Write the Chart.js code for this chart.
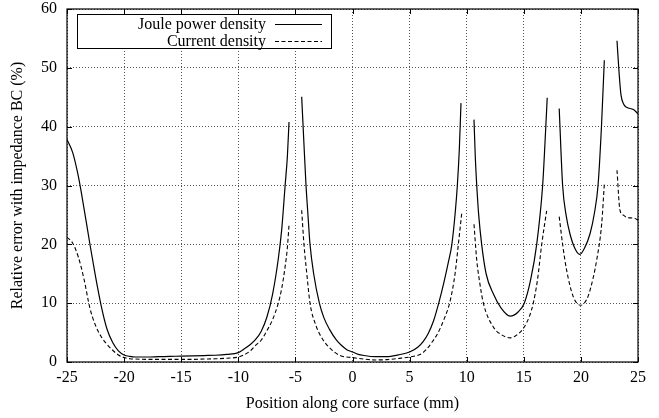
<!DOCTYPE html>
<html>
<head>
<meta charset="utf-8">
<script src="https://cdn.jsdelivr.net/npm/chart.js@4"></script>
<style>
html,body{margin:0;padding:0;background:#fff;}
#wrap{width:659px;height:418px;position:relative;}
</style>
</head>
<body>
<div id="wrap"><canvas id="c" width="659" height="418"></canvas></div>
<script>
// Data (null separates the curve's branches)
const jouleX = [-25,-24.5,-24,-23.5,-23,-22.5,-22,-21.5,-21,-20.5,-20,-19.5,-19,-18,-17,-16,-15,-14,-13,-12,-11,-10,-9.5,-9,-8.5,-8,-7.5,-7,-6.5,-6.2,-5.9,-5.7,-5.56,
  -5.1,
  -4.45,-4.25,-4.07,-3.9,-3.72,-3.4,-2.9,-2.5,-2,-1.4,-1,-0.5,0,0.5,1,2,3,4,5,5.74,6.2,6.62,7.1,7.55,8.0,8.4,8.7,9.0,9.18,9.35,9.5,
  10.1,
  10.64,10.75,10.88,11.05,11.31,11.7,12.33,13,13.8,14.5,15.04,15.6,16.13,16.65,16.85,17.05,
  17.6,
  18.1,18.4,18.7,19.04,19.5,19.9,20.3,20.8,21.2,21.5,21.8,22.05,
  22.6,
  23.16,23.35,23.51,23.75,24,24.6,25];
const jouleY = [37.8,35.6,31.5,26,20.1,14.5,9.5,5.6,3.3,1.9,1.2,0.95,0.85,0.85,0.9,0.95,1.0,1.05,1.1,1.15,1.3,1.6,2.2,2.9,3.8,5.2,7.6,11.5,17.5,22.5,30,35,40.8,
  null,
  45.1,37,30,25,20,15,10,7.5,5.5,3.7,2.9,2.1,1.7,1.3,1.1,0.9,0.9,1.2,1.7,2.55,3.5,4.8,7.0,10,13.5,17,20,25.5,30,36,44,
  null,
  41.2,35,30,25,20,15,11.6,9.2,7.8,8.5,10,14,20,30,37,44.9,
  null,
  43.1,30,25,21.8,19.2,18.3,19.3,21.8,25.5,30,40,51.3,
  null,
  54.6,49,45.4,43.8,43.3,42.9,42.2];

const currentX = [-25,-24.5,-24,-23.5,-23,-22.5,-22,-21.5,-21,-20.5,-20,-19.5,-19,-18,-17,-16,-15,-14,-13,-12,-11,-10,-9,-8.5,-8,-7.5,-7,-6.5,-6.2,-5.9,-5.7,-5.56,
  -5.1,
  -4.45,-4.25,-4.0,-3.72,-3.2,-2.56,-2,-1.1,0,1,2,3,4,5,6.06,6.5,6.94,7.5,8.0,8.54,8.98,9.27,9.56,
  10.1,
  10.64,10.88,11.1,11.46,12.33,13,13.8,14.4,15.04,15.5,15.83,16.2,16.57,17,
  17.6,
  18.1,18.4,18.75,19.34,20,20.5,20.8,21.38,21.82,22.05,
  22.6,
  23.16,23.42,23.7,24,24.74,25];
const currentY = [21.2,20.2,17.8,14,9.2,6.2,4.3,3.0,2.0,1.2,0.75,0.55,0.5,0.45,0.45,0.45,0.45,0.45,0.5,0.55,0.65,0.85,1.8,2.8,3.7,5.3,7.2,10,12.5,16.2,19.5,23.3,
  null,
  25.8,20,15,10,6.2,3.7,2.4,1.1,0.75,0.5,0.35,0.4,0.6,0.85,1.43,2.2,3.3,5.0,7.2,10.3,15,20,25.2,
  null,
  23.4,17.3,14,10,5.95,4.7,4.1,4.6,5.95,7.8,10,14,20,25.7,
  null,
  24.7,20,15.6,11.06,9.65,10.6,12.2,17.3,23.5,30.2,
  null,
  32.6,25.8,25,24.6,24.4,24.1];

const seriesLabels = ["Joule power density", "Current density"];
const xTitle = "Position along core surface (mm)";
const yTitle = "Relative error with impedance BC (%)";
const xMin = -25, xMax = 25, xStep = 5;
const yMin = 0, yMax = 60, yStep = 10;

const toPoints = (xs, ys) => xs.map((x, i) => ({x: x, y: ys[i]}));
const FONT = "'Liberation Serif', 'Times New Roman', serif";

const borderTicks = {
  id: 'borderTicks',
  afterDatasetsDraw(chart) {
    const {ctx, chartArea: a, scales: {x, y}} = chart;
    ctx.save();
    ctx.strokeStyle = '#000';
    ctx.lineWidth = 1;
    ctx.setLineDash([]);
    const L = 5;
    ctx.beginPath();
    for (let v = xMin; v <= xMax; v += xStep) {
      const px = Math.round(x.getPixelForValue(v)) + 0.5;
      ctx.moveTo(px, a.bottom); ctx.lineTo(px, a.bottom - L);
      ctx.moveTo(px, a.top); ctx.lineTo(px, a.top + L);
    }
    for (let v = yMin; v <= yMax; v += yStep) {
      const py = Math.round(y.getPixelForValue(v)) + 0.5;
      ctx.moveTo(a.left, py); ctx.lineTo(a.left + L, py);
      ctx.moveTo(a.right, py); ctx.lineTo(a.right - L, py);
    }
    ctx.stroke();
    ctx.lineWidth = 1.2;
    ctx.strokeRect(a.left, a.top, a.right - a.left, a.bottom - a.top);
    ctx.restore();
  }
};

const boxLegend = {
  id: 'boxLegend',
  afterDraw(chart) {
    const {ctx, chartArea: a} = chart;
    const bx = a.left + 10, by = a.top + 5, bw = 254, bh = 34;
    ctx.save();
    ctx.fillStyle = '#fff';
    ctx.fillRect(bx, by, bw, bh);
    ctx.strokeStyle = '#000';
    ctx.lineWidth = 1;
    ctx.setLineDash([]);
    ctx.strokeRect(bx + 0.5, by + 0.5, bw, bh);
    ctx.font = '16px ' + FONT;
    ctx.fillStyle = '#000';
    ctx.textAlign = 'right';
    ctx.textBaseline = 'middle';
    chart.data.datasets.forEach((ds, i) => {
      const cy = by + 10 + i * 16.5;
      ctx.fillText(ds.label, bx + 189, cy + 1);
      ctx.beginPath();
      ctx.setLineDash(ds.borderDash || []);
      ctx.lineWidth = ds.borderWidth;
      ctx.moveTo(bx + 198, Math.round(cy) + 0.5);
      ctx.lineTo(bx + 245, Math.round(cy) + 0.5);
      ctx.stroke();
    });
    ctx.restore();
  }
};

new Chart(document.getElementById('c'), {
  type: 'line',
  data: {
    datasets: [
      {label: seriesLabels[0], data: toPoints(jouleX, jouleY), borderColor: '#000', borderWidth: 1.2,
       pointRadius: 0, fill: false, spanGaps: false, cubicInterpolationMode: 'monotone'},
      {label: seriesLabels[1], data: toPoints(currentX, currentY), borderColor: '#000', borderWidth: 1.1,
       borderDash: [4, 2.5], pointRadius: 0, fill: false, spanGaps: false, cubicInterpolationMode: 'monotone'}
    ]
  },
  options: {
    responsive: false,
    animation: false,
    devicePixelRatio: 1,
    layout: {padding: {top: 9, right: 21, left: 8, bottom: 0}},
    plugins: {legend: {display: false}, tooltip: {enabled: false}},
    scales: {
      x: {
        type: 'linear', min: xMin, max: xMax,
        afterFit(s) { s.height = 56; s.paddingLeft = 0; s.paddingRight = 0; },
        ticks: {stepSize: xStep, color: '#000', font: {family: FONT, size: 16}, padding: 6, maxRotation: 0},
        grid: {color: '#555', lineWidth: 1, drawTicks: false, tickLength: 0},
        border: {display: false, dash: [1, 2]},
        title: {display: true, text: xTitle, color: '#000', font: {family: FONT, size: 16}, padding: {top: 0, bottom: 5}}
      },
      y: {
        type: 'linear', min: yMin, max: yMax,
        afterFit(s) { s.width = 59; s.paddingTop = 0; s.paddingBottom = 0; },
        ticks: {stepSize: yStep, color: '#000', font: {family: FONT, size: 16}, padding: 10},
        grid: {color: '#555', lineWidth: 1, drawTicks: false, tickLength: 0},
        border: {display: false, dash: [1, 2]},
        title: {display: true, text: yTitle, color: '#000', font: {family: FONT, size: 16}, padding: {top: 0, bottom: 4}}
      }
    }
  },
  plugins: [borderTicks, boxLegend]
});
</script>
</body>
</html>
